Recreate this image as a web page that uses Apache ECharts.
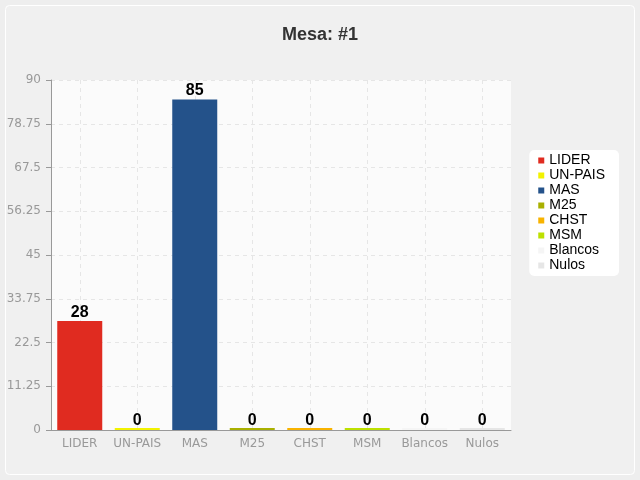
<!DOCTYPE html>
<html><head><meta charset="utf-8">
<script src="https://cdn.jsdelivr.net/npm/echarts@6/dist/echarts.min.js"></script>
<style>html,body{margin:0;padding:0;background:#eeeeee}#c{width:640px;height:480px}</style>
</head><body><div id="c"></div>
<script>
const categories = ['LIDER','UN-PAIS','MAS','M25','CHST','MSM','Blancos','Nulos'];
const values = [28, 0, 85, 0, 0, 0, 0, 0];
const colors = ['#e02b20','#f2f200','#24528a','#a9b000','#f8b300','#bde000','#f5f5f5','#e6e6e6'];
const yTicks = [0, 11.25, 22.5, 33.75, 45, 56.25, 67.5, 78.75, 90];

const chart = echarts.init(document.getElementById('c'), null, {renderer:'canvas'});
chart.setOption({
  backgroundColor: '#eeeeee',
  animation: false,
  graphic: [{type:'rect', shape:{x:5.5,y:5.5,width:629,height:469,r:4}, style:{fill:'#f0f0f0',stroke:'#ffffff',lineWidth:1}, z:-10}],
  title: {text:'Mesa: #1', left:'center', top:21, textStyle:{fontFamily:'Arial, Liberation Sans, sans-serif', fontSize:18, fontWeight:'bold', color:'#333'}},
  grid: {left:51, right:129, top:80, bottom:50, show:true, backgroundColor:'#fbfbfb', borderWidth:0},
  legend: {
    orient:'vertical', right:21, top:150, itemWidth:6, itemHeight:6, itemGap:0,
    backgroundColor:'#ffffff', borderRadius:5, padding:[3,14,3,9],
    textStyle:{fontSize:14, lineHeight:15, color:'#000', fontFamily:'Liberation Sans, Arial, sans-serif'},
    data: categories.map((c,i)=>({name:c, icon:'rect', itemStyle:{color:colors[i], borderWidth:0}}))
  },
  xAxis: {
    type:'category', data:categories,
    axisLine:{lineStyle:{color:'#999'}},
    axisTick:{alignWithLabel:true, interval:0, length:4, lineStyle:{color:'#999'}},
    axisLabel:{color:'#999', fontSize:12, margin:8, interval:0, fontFamily:'DejaVu Sans, sans-serif'},
    splitLine:{show:true, interval:0, alignWithLabel:true, lineStyle:{color:'#e6e6e6', type:[4,4]}}
  },
  yAxis: {
    type:'value', min:0, max:90, interval:11.25,
    axisLine:{show:true, lineStyle:{color:'#999'}},
    axisTick:{show:true, length:5, lineStyle:{color:'#999'}},
    axisLabel:{color:'#999', fontSize:12, margin:10, fontFamily:'DejaVu Sans, sans-serif', formatter:v=>String(v)},
    splitLine:{show:true, lineStyle:{color:'#e6e6e6', type:[4,4]}}
  },
  series: categories.map((c,i)=>({
    name:c, type:'bar', stack:'s', barWidth:45, barMinHeight:2,
    data: categories.map((_,j)=> j===i ? values[i] : '-'),
    itemStyle:{color:colors[i]},
    label:{show:true, position:'top', distance: values[i] === 0 ? -1 : 1, color:'#000', fontSize:16, fontWeight:'bold', fontFamily:'Arial, Liberation Sans, sans-serif'}
  }))
});
</script></body></html>
